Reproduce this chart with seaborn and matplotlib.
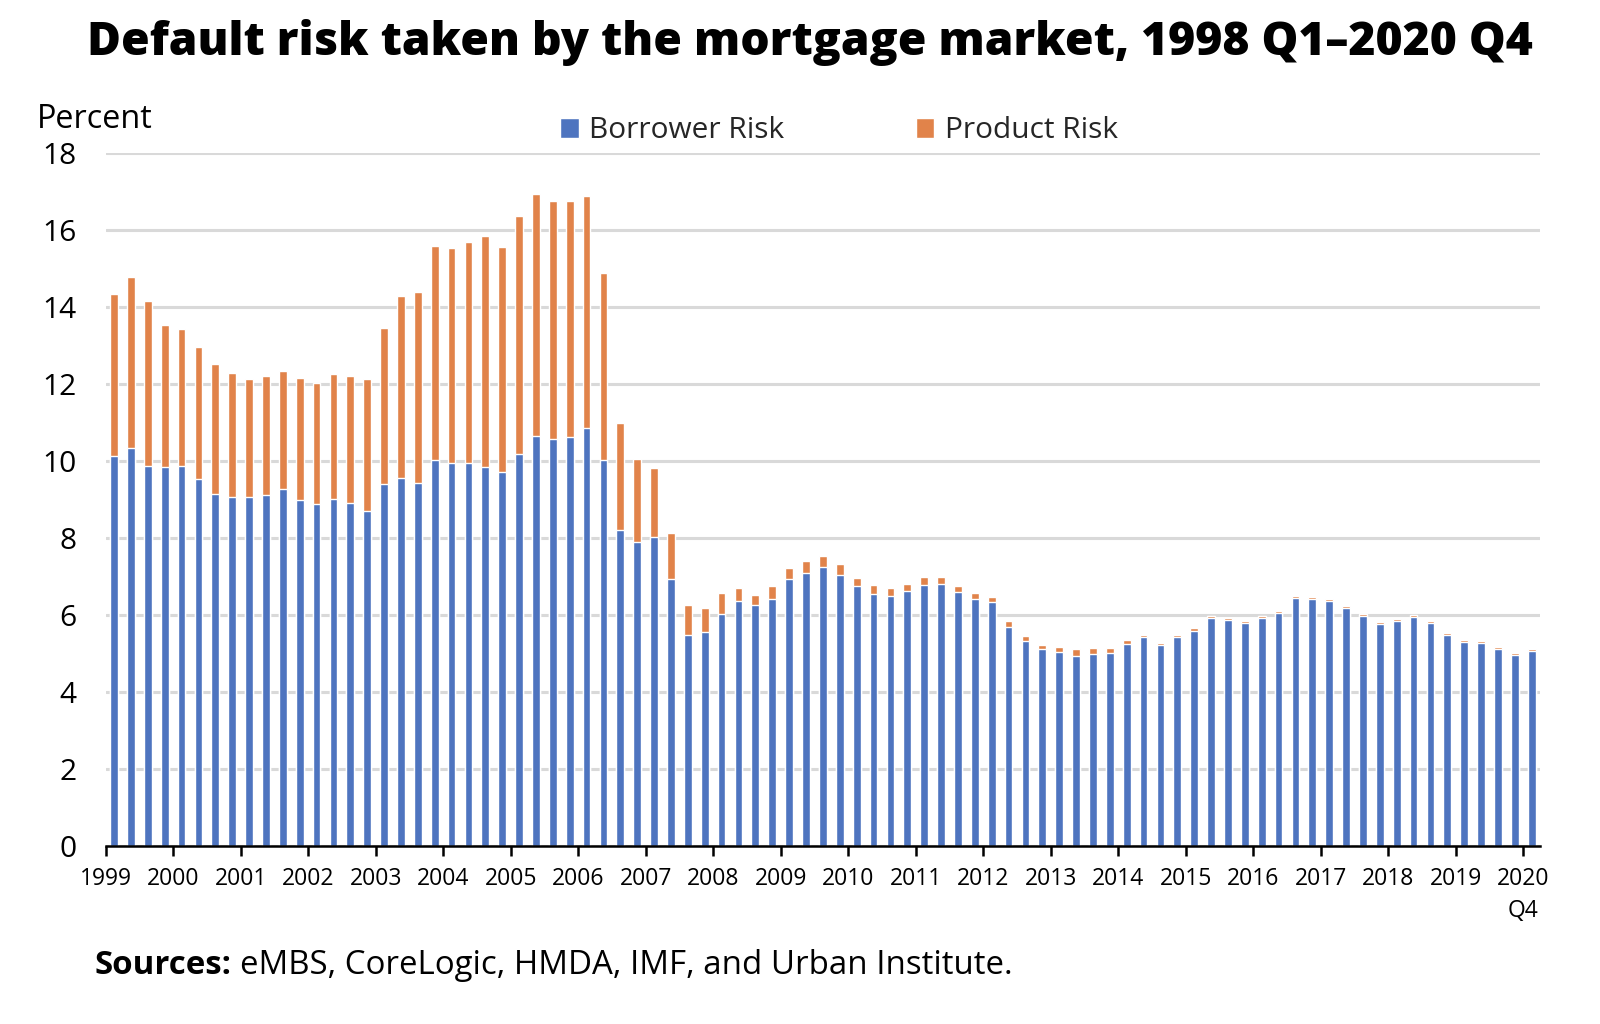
import numpy as np
import pandas as pd
import matplotlib
matplotlib.use("Agg")
import matplotlib.pyplot as plt
import seaborn as sns
from matplotlib.patches import Patch

# ---------------- data (1999 Q4 .. 2020 Q4) ----------------
quarters = [str(p) for p in pd.period_range("1999Q4", "2020Q4", freq="Q")]

borrower_risk = [
    10.14, 10.35, 9.88, 9.85, 9.88, 9.52, 9.15, 9.07, 9.07, 9.13,
    9.28, 9.00, 8.89, 9.02, 8.92, 8.71, 9.39, 9.57, 9.44, 10.03,
    9.96, 9.96, 9.85, 9.72, 10.19, 10.66, 10.58, 10.63, 10.87, 10.03,
    8.22, 7.90, 8.03, 6.93, 5.49, 5.57, 6.03, 6.37, 6.27, 6.42,
    6.93, 7.08, 7.26, 7.05, 6.76, 6.55, 6.50, 6.63, 6.79, 6.81,
    6.61, 6.42, 6.35, 5.70, 5.33, 5.13, 5.05, 4.94, 5.00, 5.02,
    5.26, 5.44, 5.23, 5.44, 5.59, 5.93, 5.88, 5.80, 5.93, 6.06,
    6.45, 6.42, 6.37, 6.19, 5.98, 5.77, 5.85, 5.96, 5.80, 5.49,
    5.31, 5.28, 5.13, 4.97, 5.07,
]

product_risk = [
    4.21, 4.44, 4.28, 3.69, 3.56, 3.45, 3.38, 3.22, 3.07, 3.09,
    3.07, 3.16, 3.14, 3.25, 3.30, 3.43, 4.07, 4.72, 4.96, 5.56,
    5.58, 5.74, 6.00, 5.85, 6.18, 6.28, 6.16, 6.11, 6.00, 4.84,
    2.78, 2.16, 1.80, 1.21, 0.78, 0.62, 0.55, 0.34, 0.26, 0.34,
    0.30, 0.33, 0.28, 0.28, 0.21, 0.24, 0.21, 0.18, 0.21, 0.19,
    0.15, 0.16, 0.13, 0.15, 0.13, 0.10, 0.13, 0.19, 0.15, 0.13,
    0.10, 0.05, 0.05, 0.05, 0.06, 0.05, 0.05, 0.05, 0.05, 0.05,
    0.05, 0.06, 0.05, 0.05, 0.05, 0.06, 0.05, 0.05, 0.05, 0.05,
    0.05, 0.05, 0.05, 0.05, 0.06,
]

year_labels = [str(y) for y in range(1999, 2020)] + ["2020\nQ4"]
y_ticks = list(range(0, 19, 2))

series_names = ["Borrower Risk", "Product Risk"]
BLUE = "#4E74BF"
ORANGE = "#E1834A"

# ---------------- figure ----------------
sns.set_theme(style="white")
plt.rcParams["font.family"] = ["Open Sans", "DejaVu Sans"]

fig = plt.figure(figsize=(16, 10.24), dpi=100)
ax = fig.add_axes([0.066, 0.1738, 0.8966, 0.6768])

df = pd.DataFrame({
    "quarter": quarters,
    "borrower": borrower_risk,
    "total": np.array(borrower_risk) + np.array(product_risk),
})

sns.barplot(data=df, x="quarter", y="total", color=ORANGE, saturation=1,
            width=0.46, errorbar=None, ax=ax, zorder=3)
sns.barplot(data=df, x="quarter", y="borrower", color=BLUE, saturation=1,
            width=0.46, errorbar=None, ax=ax, zorder=4)

ax.set_xlim(-0.5, len(quarters) - 0.5)
ax.set_ylim(0, 18)
ax.set_yticks(y_ticks)
ax.set_yticklabels([str(t) for t in y_ticks])
ax.yaxis.grid(True, color="#d9d9d9", lw=2.2)
ax.xaxis.grid(False)
ax.set_axisbelow(True)

ax.set_xticks(np.arange(-0.5, len(quarters) - 1, 4))
ax.set_xticklabels(year_labels)
for lab in ax.get_xticklabels():
    lab.set_linespacing(1.45)

for s in ["left", "right", "top"]:
    ax.spines[s].set_visible(False)
ax.spines["bottom"].set_color("black")
ax.spines["bottom"].set_linewidth(1.8)
ax.spines["bottom"].set_zorder(6)

ax.tick_params(axis="x", length=7, width=1.8, direction="out", color="black",
               labelsize=16.5, pad=8, labelcolor="black", bottom=True)
ax.tick_params(axis="y", length=0, labelsize=21.5, pad=21, labelcolor="black")
ax.set_xlabel("")
ax.set_ylabel("")

# title
fig.text(0.506, 1 - 42 / 1024, "Default risk taken by the mortgage market, 1998 Q1\u20132020 Q4",
         ha="center", va="center", fontsize=33.3, fontweight="heavy", color="black")

# y-axis unit
fig.text(37 / 1600, 1 - 119 / 1024, "Percent", ha="left", va="center",
         fontsize=23.3, color="black")

# legend
handles = [Patch(facecolor=BLUE, label=series_names[0]),
           Patch(facecolor=ORANGE, label=series_names[1])]
fig.legend(handles=handles, ncol=2, frameon=False, loc="center",
           bbox_to_anchor=(839 / 1600, 1 - 131 / 1024), fontsize=21.5,
           handlelength=0.62, handleheight=0.62, handletextpad=0.35,
           columnspacing=4.4)

# sources
fig.canvas.draw()
renderer = fig.canvas.get_renderer()
t1 = fig.text(94 / 1600, 1 - 966 / 1024, "Sources:", ha="left", va="center",
              fontsize=23.8, fontweight="bold", color="black")
bb = t1.get_window_extent(renderer=renderer)
x_after = (bb.x1 + 9) / fig.bbox.width
fig.text(x_after, 1 - 966 / 1024, "eMBS, CoreLogic, HMDA, IMF, and Urban Institute.",
         ha="left", va="center", fontsize=23.8, color="black")

fig.savefig("out.png", dpi=100)
